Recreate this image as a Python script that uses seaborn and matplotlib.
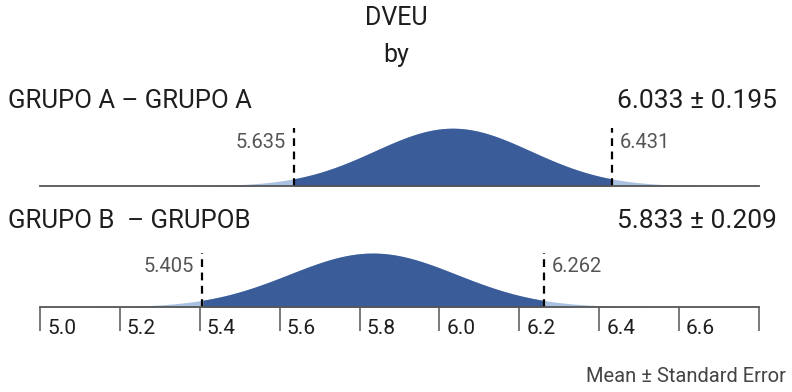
import numpy as np
import pandas as pd
import seaborn as sns
import matplotlib.pyplot as plt
import matplotlib.transforms as mtransforms

GROUPS = ['GRUPO A – GRUPO A', 'GRUPO B  – GRUPOB']
MEANS = [6.033, 5.833]
SES = [0.195, 0.209]
CI_LOW = [5.635, 5.405]
CI_HIGH = [6.431, 6.262]
TICKS = [5.0, 5.2, 5.4, 5.6, 5.8, 6.0, 6.2, 6.4, 6.6, 6.8]
TICK_LABELS = ['5.0', '5.2', '5.4', '5.6', '5.8', '6.0', '6.2', '6.4', '6.6', '']

DARK = '#3a5c98'
LIGHT = '#a9c2e2'
AXIS_GREY = '#555555'
TEXT = '#1e1e1e'

sns.set_theme(style='white')
plt.rcParams['font.family'] = ['Roboto', 'DejaVu Sans']

W, H = 792, 392
fig = plt.figure(figsize=(W / 100, H / 100), dpi=100)

YMAX = 2.3
# baseline pixel rows of the two panels
baselines = [186, 307]
axes = []
for base in baselines:
    ax = fig.add_axes([40 / W, (H - base) / H, 719 / W, 65 / H])
    axes.append(ax)


def normal_curve(mean, se):
    x = np.linspace(mean - 4 * se, mean + 4 * se, 400)
    y = np.exp(-0.5 * ((x - mean) / se) ** 2) / (se * np.sqrt(2 * np.pi))
    return pd.DataFrame({'x': x, 'density': y})


for i, ax in enumerate(axes):
    df = normal_curve(MEANS[i], SES[i])
    inner = df[(df.x >= CI_LOW[i]) & (df.x <= CI_HIGH[i])]
    sns.lineplot(data=df, x='x', y='density', ax=ax, color=LIGHT, linewidth=0)
    ax.fill_between(df.x, 0, df.density, color=LIGHT, linewidth=0)
    ax.fill_between(inner.x, 0, inner.density, color=DARK, linewidth=0)

    peak = df.density.max()
    for xv, side in ((CI_LOW[i], 'left'), (CI_HIGH[i], 'right')):
        ax.plot([xv, xv], [0, peak], color='black', linestyle=(0, (3.5, 2.5)),
                linewidth=1.6, clip_on=False)
        off = -8 if side == 'left' else 8
        trans = mtransforms.offset_copy(ax.transData, fig=fig, x=off, y=0, units='dots')
        ax.text(xv, peak * 0.76, f'{xv:.3f}', transform=trans, fontsize=14.5,
                color='#555555', ha='right' if side == 'left' else 'left', va='center')

    ax.set_xlim(5.0, 6.8)
    ax.set_ylim(0, YMAX)
    ax.set_xlabel('')
    ax.set_ylabel('')
    ax.set_yticks([])
    for s in ('top', 'left', 'right'):
        ax.spines[s].set_visible(False)
    ax.spines['bottom'].set_color(AXIS_GREY)
    ax.spines['bottom'].set_linewidth(1.3)
    ax.patch.set_alpha(0)

axes[0].set_xticks([])
bottom = axes[1]
bottom.set_xticks(TICKS)
bottom.set_xticklabels([])
bottom.tick_params(axis='x', direction='out', length=17.5, width=1.1, color=AXIS_GREY,
                   bottom=True, pad=0)
for t, lab in zip(TICKS, TICK_LABELS):
    trans = mtransforms.offset_copy(bottom.get_xaxis_transform(), fig=fig, x=7, y=-22,
                                    units='dots')
    bottom.text(t, 0, lab, transform=trans, fontsize=15, color=TEXT,
                ha='left', va='center')

fig.text(396 / W, 1 - 18 / H, 'DVEU', ha='center', va='center', fontsize=18, color=TEXT)
fig.text(396 / W, 1 - 55 / H, 'by', ha='center', va='center', fontsize=18, color=TEXT)

label_rows = [101, 221]
for i, row in enumerate(label_rows):
    fig.text(8 / W, 1 - row / H, GROUPS[i], ha='left', va='center', fontsize=18.5,
             color=TEXT)
    fig.text(777 / W, 1 - row / H, f'{MEANS[i]:.3f} ± {SES[i]:.3f}', ha='right',
             va='center', fontsize=19, color=TEXT)

fig.text(786 / W, 1 - 377 / H, 'Mean ± Standard Error', ha='right', va='center',
         fontsize=14.5, color='#444444')

fig.savefig('out.png', dpi=100, facecolor='white')
